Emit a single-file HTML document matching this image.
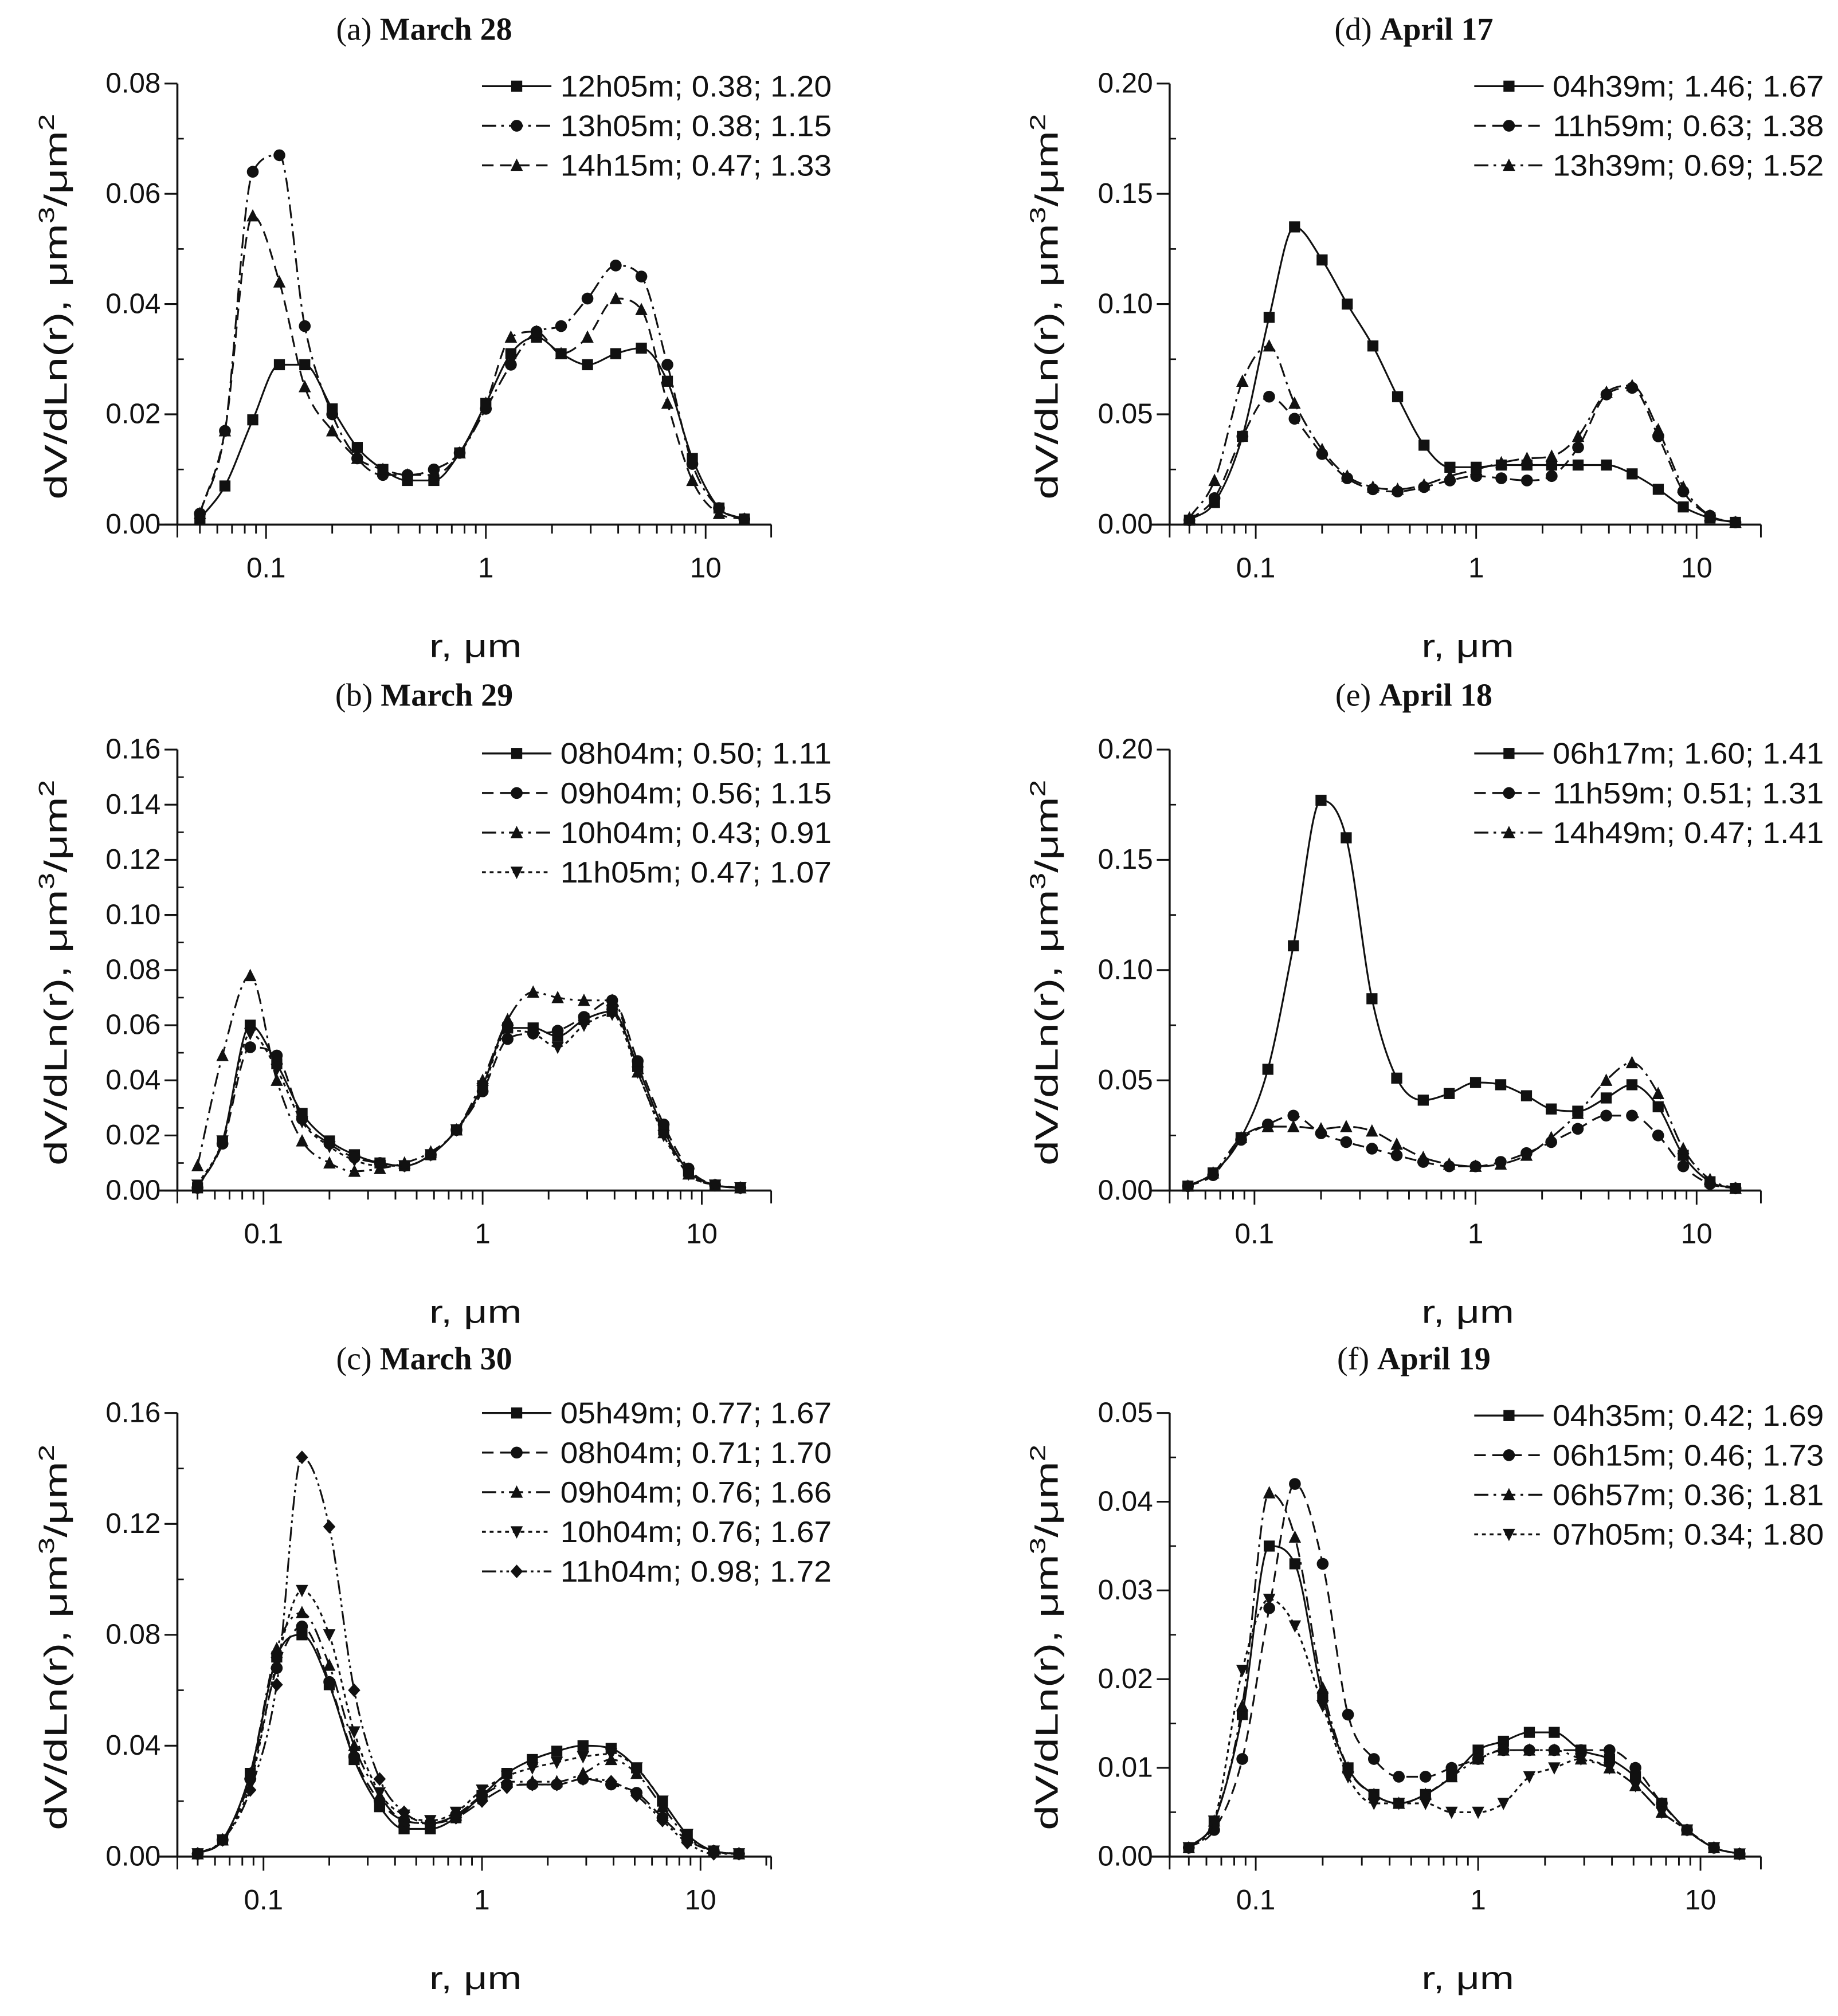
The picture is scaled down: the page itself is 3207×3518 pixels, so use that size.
<!DOCTYPE html>
<html><head><meta charset="utf-8"><style>
html,body{margin:0;padding:0;background:#fff;}
svg{display:block;}
</style></head><body>
<svg id="fig" width="3207" height="3518" viewBox="0 0 1430 1568" preserveAspectRatio="none" xmlns="http://www.w3.org/2000/svg"></svg>
<script>
const radii=[0.05,0.065,0.087,0.115,0.15,0.2,0.26,0.34,0.44,0.58,0.76,1.0,1.3,1.7,2.2,2.9,3.9,5.1,6.7,8.7,11.5,15];
// Panel (a) March 28
const aLabels=["12h05m; 0.38; 1.20","13h05m; 0.38; 1.15","14h15m; 0.47; 1.33"];
const aS1=[0.001,0.007,0.019,0.029,0.029,0.021,0.014,0.010,0.008,0.008,0.013,0.022,0.031,0.034,0.031,0.029,0.031,0.032,0.026,0.012,0.003,0.001];
const aS2=[0.002,0.017,0.064,0.067,0.036,0.020,0.012,0.009,0.009,0.010,0.013,0.021,0.029,0.035,0.036,0.041,0.047,0.045,0.029,0.011,0.003,0.001];
const aS3=[0.002,0.017,0.056,0.044,0.025,0.017,0.012,0.010,0.009,0.009,0.013,0.022,0.034,0.035,0.031,0.034,0.041,0.039,0.022,0.008,0.002,0.001];
// Panel (b) March 29
const bLabels=["08h04m; 0.50; 1.11","09h04m; 0.56; 1.15","10h04m; 0.43; 0.91","11h05m; 0.47; 1.07"];
const bS1=[0.001,0.018,0.060,0.046,0.028,0.018,0.013,0.010,0.009,0.013,0.022,0.038,0.059,0.059,0.056,0.062,0.065,0.045,0.022,0.007,0.002,0.001];
const bS2=[0.001,0.017,0.052,0.049,0.026,0.017,0.012,0.010,0.009,0.013,0.022,0.036,0.055,0.057,0.058,0.063,0.069,0.047,0.024,0.008,0.002,0.001];
const bS3=[0.009,0.049,0.078,0.040,0.018,0.010,0.007,0.008,0.010,0.014,0.022,0.040,0.062,0.072,0.070,0.069,0.069,0.043,0.021,0.006,0.002,0.001];
const bS4=[0.002,0.018,0.057,0.044,0.025,0.016,0.011,0.009,0.009,0.013,0.022,0.037,0.058,0.057,0.052,0.060,0.064,0.043,0.020,0.006,0.002,0.001];
// Panel (c) March 30
const cLabels=["05h49m; 0.77; 1.67","08h04m; 0.71; 1.70","09h04m; 0.76; 1.66","10h04m; 0.76; 1.67","11h04m; 0.98; 1.72"];
const cS1=[0.001,0.006,0.030,0.072,0.080,0.062,0.035,0.018,0.010,0.010,0.014,0.022,0.030,0.035,0.038,0.040,0.039,0.032,0.020,0.008,0.002,0.001];
const cS2=[0.001,0.006,0.028,0.068,0.083,0.063,0.036,0.020,0.013,0.012,0.015,0.022,0.026,0.026,0.026,0.028,0.026,0.023,0.014,0.006,0.002,0.001];
const cS3=[0.001,0.006,0.030,0.075,0.088,0.069,0.040,0.022,0.013,0.012,0.015,0.022,0.027,0.027,0.027,0.030,0.035,0.030,0.018,0.007,0.002,0.001];
const cS4=[0.001,0.006,0.026,0.070,0.096,0.080,0.045,0.023,0.015,0.013,0.016,0.024,0.029,0.032,0.034,0.036,0.037,0.032,0.020,0.008,0.002,0.001];
const cS5=[0.001,0.006,0.024,0.062,0.144,0.119,0.060,0.028,0.016,0.012,0.014,0.020,0.025,0.026,0.026,0.028,0.027,0.022,0.013,0.005,0.001,0.001];
// Panel (d) April 17
const dLabels=["04h39m; 1.46; 1.67","11h59m; 0.63; 1.38","13h39m; 0.69; 1.52"];
const dS1=[0.002,0.010,0.040,0.094,0.135,0.120,0.100,0.081,0.058,0.036,0.026,0.026,0.027,0.027,0.027,0.027,0.027,0.023,0.016,0.008,0.003,0.001];
const dS2=[0.002,0.012,0.040,0.058,0.048,0.032,0.021,0.016,0.015,0.017,0.020,0.022,0.021,0.020,0.022,0.035,0.059,0.062,0.040,0.015,0.004,0.001];
const dS3=[0.003,0.020,0.065,0.081,0.055,0.034,0.022,0.017,0.016,0.018,0.022,0.025,0.028,0.030,0.031,0.040,0.060,0.063,0.043,0.017,0.004,0.001];
// Panel (e) April 18
const eLabels=["06h17m; 1.60; 1.41","11h59m; 0.51; 1.31","14h49m; 0.47; 1.41"];
const eS1=[0.002,0.008,0.024,0.055,0.111,0.177,0.160,0.087,0.051,0.041,0.044,0.049,0.048,0.043,0.037,0.036,0.042,0.048,0.038,0.016,0.004,0.001];
const eS2=[0.002,0.007,0.023,0.030,0.034,0.026,0.022,0.019,0.016,0.013,0.011,0.011,0.013,0.017,0.022,0.028,0.034,0.034,0.025,0.011,0.003,0.001];
const eS3=[0.002,0.008,0.024,0.029,0.029,0.028,0.029,0.027,0.021,0.015,0.012,0.011,0.012,0.016,0.024,0.035,0.050,0.058,0.044,0.019,0.005,0.001];
// Panel (f) April 19
const fLabels=["04h35m; 0.42; 1.69","06h15m; 0.46; 1.73","06h57m; 0.36; 1.81","07h05m; 0.34; 1.80"];
const fS1=[0.001,0.004,0.016,0.035,0.033,0.018,0.010,0.007,0.006,0.007,0.009,0.012,0.013,0.014,0.014,0.012,0.011,0.009,0.006,0.003,0.001,0.0003];
const fS2=[0.001,0.003,0.011,0.028,0.042,0.033,0.016,0.011,0.009,0.009,0.010,0.011,0.012,0.012,0.012,0.012,0.012,0.010,0.006,0.003,0.001,0.0003];
const fS3=[0.001,0.004,0.017,0.041,0.036,0.019,0.010,0.007,0.006,0.007,0.009,0.011,0.012,0.012,0.012,0.011,0.010,0.008,0.005,0.003,0.001,0.0003];
const fS4=[0.001,0.004,0.021,0.029,0.026,0.017,0.009,0.006,0.006,0.006,0.005,0.005,0.006,0.009,0.010,0.011,0.010,0.008,0.005,0.003,0.001,0.0003];
const aTicks=["0.00","0.02","0.04","0.06","0.08"];
const bTicks=["0.00","0.02","0.04","0.06","0.08","0.10","0.12","0.14","0.16"];
const cTicks=["0.00","0.04","0.08","0.12","0.16"];
const dTicks=["0.00","0.05","0.10","0.15","0.20"];
const fTicks=["0.00","0.01","0.02","0.03","0.04","0.05"];
const xTicks=["0.1","1","10"];

const NS="http://www.w3.org/2000/svg";
const svg=document.getElementById('fig');
function mk(tag,attrs,parent){const e=document.createElementNS(NS,tag);for(const k in attrs)e.setAttribute(k,attrs[k]);(parent||svg).appendChild(e);return e;}
const DASH=["none","9,5","11,4,2,4","3,3","11,3,2,3,2,3"];
const MARK=["square","circle","triangle","tridown","diamond"];
function marker(g,t,x,y){
  const r=4.3;let e;
  if(t==="square")e=mk('rect',{x:x-r,y:y-r,width:2*r,height:2*r,fill:'#111'},g);
  else if(t==="circle")e=mk('circle',{cx:x,cy:y,r:r+0.3,fill:'#111'},g);
  else if(t==="triangle")e=mk('polygon',{points:`${x},${y-r-1} ${x+r+0.5},${y+r} ${x-r-0.5},${y+r}`,fill:'#111'},g);
  else if(t==="tridown")e=mk('polygon',{points:`${x},${y+r+1} ${x+r+0.5},${y-r} ${x-r-0.5},${y-r}`,fill:'#111'},g);
  else e=mk('polygon',{points:`${x},${y-r-1} ${x+r+0.5},${y} ${x},${y+r+1} ${x-r-0.5},${y}`,fill:'#111'},g);
  
  
}
// monotone cubic (Fritsch-Carlson) to avoid overshoot
function smooth(pts){
  const n=pts.length,dx=[],s=[],m=[];
  for(let i=0;i<n-1;i++){dx[i]=pts[i+1][0]-pts[i][0];s[i]=(pts[i+1][1]-pts[i][1])/dx[i];}
  m[0]=s[0];m[n-1]=s[n-2];
  for(let i=1;i<n-1;i++){m[i]=(s[i-1]*s[i]<=0)?0:(s[i-1]+s[i])/2;}
  for(let i=0;i<n-1;i++){if(s[i]===0){m[i]=0;m[i+1]=0;continue;}
    const a=m[i]/s[i],b=m[i+1]/s[i],h=a*a+b*b;if(h>9){const t=3/Math.sqrt(h);m[i]=t*a*s[i];m[i+1]=t*b*s[i];}}
  let d=`M${pts[0][0].toFixed(2)},${pts[0][1].toFixed(2)}`;
  for(let i=0;i<n-1;i++){
    const h=dx[i];
    d+=` C${(pts[i][0]+h/3).toFixed(2)},${(pts[i][1]+m[i]*h/3).toFixed(2)} ${(pts[i+1][0]-h/3).toFixed(2)},${(pts[i+1][1]-m[i+1]*h/3).toFixed(2)} ${pts[i+1][0].toFixed(2)},${pts[i+1][1].toFixed(2)}`;
  }
  return d;
}
function panel(cfg){
  const g=mk('g',{});
  
  
  const x0=cfg.x0,dec=cfg.dec,yb=cfg.yb,yt=cfg.yt,ymax=cfg.ymax;
  const X=v=>x0+Math.log10(v/0.1)*dec;
  const Y=v=>yb-(v/ymax)*(yb-yt);
  const axL=cfg.axL;
  const dash=cfg.dash||DASH;
  const ya=mk('line',{x1:axL,y1:yb,x2:axL,y2:yt,stroke:'#111','stroke-width':1.6},g);
  
  const xa=mk('line',{x1:axL-14,y1:yb,x2:cfg.axR,y2:yb,stroke:'#111','stroke-width':1.6},g);
  
  const n=cfg.ticks.length;
  cfg.ticks.forEach((t,i)=>{
    const v=parseFloat(t),y=Y(v);
    mk('line',{x1:axL-10,y1:y,x2:axL,y2:y,stroke:'#111','stroke-width':1.4},g);
    if(i<n-1){const ym=Y(v+ymax/(n-1)/2);mk('line',{x1:axL,y1:ym,x2:axL+5,y2:ym,stroke:'#111','stroke-width':1.2},g);}
    const tx=mk('text',{x:axL-13,y:y+7,'text-anchor':'end','font-size':22,'font-family':'Liberation Sans, sans-serif',fill:'#111'},g);
    tx.textContent=t;
    
    
  });
  mk('line',{x1:axL,y1:yb,x2:axL,y2:yb+10,stroke:'#111','stroke-width':1.3},g);
  mk('line',{x1:cfg.axR,y1:yb,x2:cfg.axR,y2:yb+10,stroke:'#111','stroke-width':1.3},g);
  for(let p=-2;p<=1;p++){for(let m=1;m<10;m++){const v=m*Math.pow(10,p);const x=X(v);if(x<axL+3||x>cfg.axR-3)continue;
    mk('line',{x1:x,y1:yb,x2:x,y2:yb+(m===1?11:7),stroke:'#111','stroke-width':1.3},g);}}
  xTicks.forEach(t=>{
    const tx=mk('text',{x:X(parseFloat(t)),y:yb+41,'text-anchor':'middle','font-size':22,'font-family':'Liberation Sans, sans-serif',fill:'#111'},g);
    tx.textContent=t;
    
    
  });
  const xt=mk('text',{x:cfg.xtx-36,y:yb+103,'font-size':25,'font-family':'Liberation Sans, sans-serif',fill:'#111',textLength:72,lengthAdjust:'spacingAndGlyphs'},g);
  xt.textContent='r, μm';
  
  
  const cy=(yb+yt)/2;
  const yl=mk('text',{x:-152,y:0,transform:`translate(${cfg.ytx},${cy}) rotate(-90)`,'font-size':25,'font-family':'Liberation Sans, sans-serif',fill:'#111',textLength:300,lengthAdjust:'spacingAndGlyphs'},g);
  yl.innerHTML='dV/dLn(r), μm<tspan dy="-10" font-size="17">3</tspan><tspan dy="10">/μm</tspan><tspan dy="-10" font-size="17">2</tspan>';
  
  
  const pt=mk('text',{x:cfg.ttx,y:yt-34,'text-anchor':'middle','font-size':25,'font-family':'Liberation Serif, serif',fill:'#111'},g);
  pt.innerHTML=cfg.title[0]+' <tspan font-weight="bold">'+cfg.title[1]+'</tspan>';
  
  
  cfg.series.forEach((s,i)=>{
    const sg=mk('g',{},g);
    
    
    const pts=radii.map((r,j)=>[X(r),Y(s[j])]);
    mk('path',{d:smooth(pts),fill:'none',stroke:'#111','stroke-width':1.4,'stroke-dasharray':dash[i]},sg);
    pts.forEach(p=>marker(sg,MARK[i],p[0],p[1]));
    const ly=cfg.ly+i*30.8;
    const lg=mk('g',{},g);
    
    
    mk('line',{x1:cfg.lx,y1:ly,x2:cfg.lx+54,y2:ly,stroke:'#111','stroke-width':1.5,'stroke-dasharray':dash[i]},lg);
    marker(lg,MARK[i],cfg.lx+27,ly);
    const lt=mk('text',{x:cfg.lx+61,y:ly+8,'font-size':23,'font-family':'Liberation Sans, sans-serif',fill:'#111',textLength:211,lengthAdjust:'spacingAndGlyphs'},lg);
    lt.textContent=cfg.labels[i];
  });
}
const L={axL:138,axR:600,xtx:370,ytx:52,ttx:330,lx:375};
const R={axL:910,axR:1370,xtx:1142,ytx:823,ttx:1100,lx:1147};
panel(Object.assign({},L,{name:'panel-a',x0:207,dec:171,yb:408,yt:65,ymax:0.08,ticks:aTicks,ly:67,labels:aLabels,series:[aS1,aS2,aS3],title:['(a)','March 28'],dash:["none","11,4,2,4","9,5"]}));
panel(Object.assign({},L,{name:'panel-b',x0:205,dec:170.5,yb:926,yt:583,ymax:0.16,ticks:bTicks,ly:586,labels:bLabels,series:[bS1,bS2,bS3,bS4],title:['(b)','March 29']}));
panel(Object.assign({},L,{name:'panel-c',x0:205,dec:170,yb:1444,yt:1099,ymax:0.16,ticks:cTicks,ly:1099,labels:cLabels,series:[cS1,cS2,cS3,cS4,cS5],title:['(c)','March 30']}));
panel(Object.assign({},R,{name:'panel-d',x0:977,dec:171.5,yb:408,yt:65,ymax:0.20,ticks:dTicks,ly:67,labels:dLabels,series:[dS1,dS2,dS3],title:['(d)','April 17']}));
panel(Object.assign({},R,{name:'panel-e',x0:976,dec:172,yb:926,yt:583,ymax:0.20,ticks:dTicks,ly:586,labels:eLabels,series:[eS1,eS2,eS3],title:['(e)','April 18']}));
panel(Object.assign({},R,{name:'panel-f',x0:977,dec:173,yb:1444,yt:1099,ymax:0.05,ticks:fTicks,ly:1101,labels:fLabels,series:[fS1,fS2,fS3,fS4],title:['(f)','April 19']}));
</script>
</body></html>
